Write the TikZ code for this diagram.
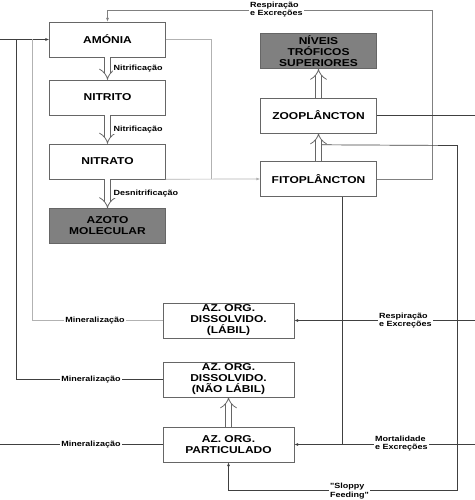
\documentclass[tikz,border=0pt]{standalone}
\usepackage{fontspec}
\newfontfamily\boxfont{Liberation Sans}[FakeStretch=1.2]
\usetikzlibrary{arrows.meta}
\begin{document}
\begin{tikzpicture}[x=1pt,y=-1pt,
  box/.style={draw=black!60,fill=white,minimum width=116pt,minimum height=35pt,inner sep=1pt,align=center,font=\boxfont\bfseries\fontsize{10}{11}\selectfont},
  greybox/.style={box,fill=black!50},
  widebox/.style={box,minimum width=131pt},
  lbl/.style={fill=white,inner sep=1pt,align=left,font=\boxfont\bfseries\fontsize{7.5}{8.5}\selectfont},
  feed/.style={draw=black!60,line width=0.8pt,double=white,double distance=5.2pt,-{Implies}},
  darkline/.style={draw=black!75,line width=0.7pt},
  midline/.style={draw=black!50,line width=0.7pt},
  lightline/.style={draw=black!30,line width=0.7pt},
  tipto/.style={-{Latex[length=4pt,width=3pt]}}]
\useasboundingbox (0,0) rectangle (474,500);
\node[box] (amonia) at (107.5,39.5) {AMÓNIA};
\node[box] (nitrito) at (107.5,97.5) {NITRITO};
\node[box] (nitrato) at (107.5,161.5) {NITRATO};
\node[greybox] (azoto) at (107.5,226) {AZOTO\\MOLECULAR};
\node[greybox] (niveis) at (318.5,51) {NÍVEIS\\TRÓFICOS\\SUPERIORES};
\node[box] (zoo) at (318.5,115.5) {ZOOPLÂNCTON};
\node[box] (fito) at (318.5,179) {FITOPLÂNCTON};
\node[widebox] (labil) at (228.5,320.5) {AZ. ORG.\\DISSOLVIDO.\\(LÁBIL)};
\node[widebox] (naolabil) at (228.5,379.5) {AZ. ORG.\\DISSOLVIDO.\\(NÃO LÁBIL)};
\node[widebox] (partic) at (228.5,444.5) {AZ. ORG.\\PARTICULADO};
\coordinate (graze) at ([xshift=3.5pt,yshift=16.5pt]fito.north);
\coordinate (fitodown) at ([xshift=24pt]fito.south);
\draw[midline,tipto] (fito.east) -- (432.5,179) -- (432.5,10.5) -- (107.5,10.5) -- (amonia.north);
\draw[lightline] (amonia.east) -| (211.5,179);
\draw[lightline,tipto] (nitrato.south east) -- (fito.west);
\draw[darkline] (zoo.east) -| (478,444.5);
\draw[darkline,tipto] (478,320.5) -- (labil.east);
\draw[darkline,tipto] (478,444.5) -- (partic.east);
\draw[darkline] (fitodown) -- (fitodown |- partic.east);
\draw[darkline,tipto] (graze) -- (457.5,145.5) -- (457.5,490.5) -| (partic.south);
\draw[darkline,tipto] (-3,444.5) -- (-3,39.5) -- (amonia.west);
\draw[darkline] (partic.west) -- (-3,444.5);
\draw[darkline] (naolabil.west) -| (16.5,39.5);
\draw[lightline] (labil.west) -| (32.5,39.5);
\draw[feed] (amonia) -- (nitrito);
\draw[feed] (nitrito) -- (nitrato);
\draw[feed] (nitrato) -- (azoto);
\draw[feed] (fito) -- (zoo);
\draw[feed] (zoo) -- (niveis);
\draw[feed] (partic) -- (naolabil);
\path (amonia) -- node[lbl,right=5pt] (nit1) {Nitrificação} (nitrito);
\path (nitrito) -- node[lbl,right=5pt] (nit2) {Nitrificação} (nitrato);
\path (nitrato) -- node[lbl,right=5pt] (desnit) {Desnitrificação} (azoto);
\node[lbl,anchor=west] (resp1) at (249,9.5) {Respiração\\e Excreções};
\node[lbl,anchor=west] (resp2) at (378,320.5) {Respiração\\e Excreções};
\node[lbl,anchor=west] (mort) at (374,443.5) {Mortalidade\\e Excreções};
\node[lbl,anchor=west] (sloppy) at (329,491) {"Sloppy\\Feeding"};
\node[lbl] (min1) at (95,320.5) {Mineralização};
\node[lbl] (min2) at (91,379.5) {Mineralização};
\node[lbl] (min3) at (91,444.5) {Mineralização};
\end{tikzpicture}
\end{document}
